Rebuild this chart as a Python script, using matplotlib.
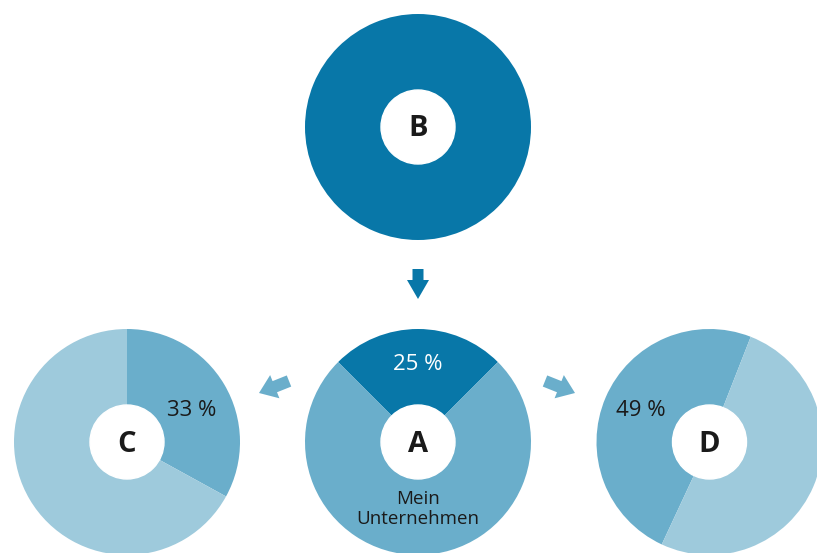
import matplotlib.pyplot as plt
import numpy as np
from matplotlib.patches import FancyArrow, Circle

plt.rcParams['font.family'] = ['Open Sans', 'DejaVu Sans']

# data
names = ['B', 'A', 'C', 'D']
shares = [100, 25, 33, 49]            # highlighted share in %
pct_labels = ['', '25 %', '33 %', '49 %']
sub_label = 'Mein\nUnternehmen'

dark = '#0877a8'
mid = '#6aaecb'
light = '#9ecadc'

# layout (pixels)
W, H = 817, 553
centers = {'B': (418, 127), 'A': (418, 442), 'C': (127, 442), 'D': (709.5, 442)}
R = 113
r_in = 37

fig = plt.figure(figsize=(W / 100, H / 100), dpi=100)
ax = fig.add_axes([0, 0, 1, 1])

def donut(name, share, start, cols, ccw=True):
    cx, cy = centers[name]
    # y axis is flipped below, so mirror the direction
    ax.pie([share, 100 - share], colors=cols, startangle=-start,
           counterclock=not ccw, center=(cx, cy), radius=R,
           wedgeprops=dict(linewidth=0))
    ax.add_patch(Circle((cx, cy), r_in, color='white', zorder=3))
    ax.text(cx, cy + 2, name, ha='center', va='center', fontsize=21,
            fontweight='bold', color='#1a1a1a', zorder=4)

def label(name, text, ang, frac, color):
    cx, cy = centers[name]
    a = np.deg2rad(ang)
    ax.text(cx + frac * R * np.cos(a), cy - frac * R * np.sin(a), text,
            ha='center', va='center', fontsize=16, color=color, zorder=4)

donut('B', shares[0], 90, [dark, dark])
donut('A', shares[1], 45, [dark, mid])
donut('C', shares[2], 90, [mid, light], ccw=False)
donut('D', shares[3], 68.6, [mid, light])

label('A', pct_labels[1], 90, 0.69, 'white')
label('C', pct_labels[2], 26, 0.64, '#1a1a1a')
label('D', pct_labels[3], 155, 0.67, '#1a1a1a')
ax.text(centers['A'][0], 509, sub_label, ha='center', va='center',
        fontsize=13.5, color='#1a1a1a', linespacing=1.15, zorder=4)

# arrows
ax.add_patch(FancyArrow(418, 269, 0, 30, width=11, head_width=22,
                        head_length=19, length_includes_head=True,
                        color=dark, linewidth=0))
ax.add_patch(FancyArrow(289, 381, -30, 12, width=12, head_width=25,
                        head_length=17, length_includes_head=True,
                        color=mid, linewidth=0))
ax.add_patch(FancyArrow(545, 381, 30, 12, width=12, head_width=25,
                        head_length=17, length_includes_head=True,
                        color=mid, linewidth=0))

ax.set_xlim(0, W)
ax.set_ylim(H, 0)
ax.set_aspect('equal')
ax.axis('off')

fig.savefig('out.png', dpi=100)
